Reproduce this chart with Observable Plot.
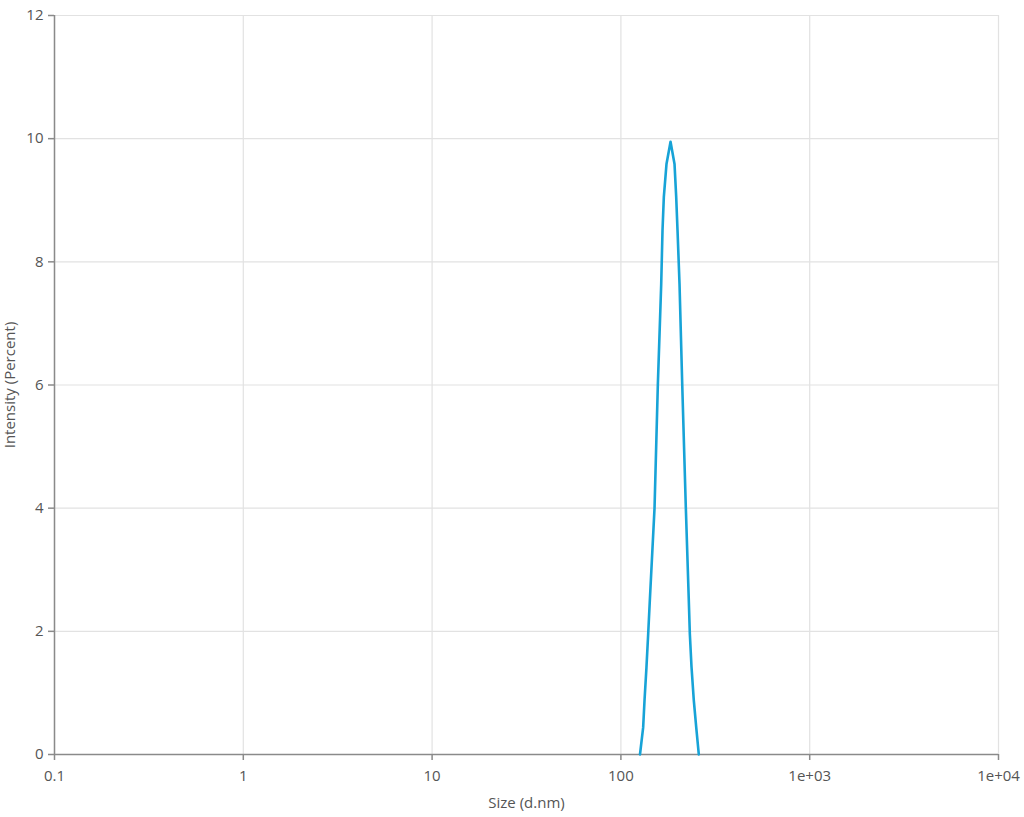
<!DOCTYPE html>
<html>
<head>
<meta charset="utf-8">
<script src="https://cdn.jsdelivr.net/npm/d3@7"></script>
<script src="https://cdn.jsdelivr.net/npm/@observablehq/plot@0.6"></script>
<style>
  html, body { margin: 0; padding: 0; background: #fff; }
  #chart svg { display: block; }
</style>
</head>
<body>
<div id="chart"></div>
<script>
// Size (d.nm) and Intensity (Percent)
const sizes = [126.2, 131.2, 133.4, 136.6, 139.5, 142.3, 150.7, 156.9, 163.5, 166.1, 168.8, 174.4, 183.2,
               192.3, 196.3, 199.5, 204.4, 211.3, 220.8, 228.9, 231.8, 236.6, 243.3, 250.6, 258.6];
const intensity = [0, 0.44, 0.88, 1.42, 1.96, 2.5, 4.0, 6.0, 7.64, 8.51, 9.05, 9.59, 9.95,
                   9.59, 9.05, 8.51, 7.64, 6.0, 4.0, 2.5, 1.96, 1.42, 0.88, 0.44, 0];
const xTicks = [0.1, 1, 10, 100, 1000, 10000];
const xTickLabels = ["0.1", "1", "10", "100", "1e+03", "1e+04"];
const yTicks = [0, 2, 4, 6, 8, 10, 12];

const data = sizes.map((s, i) => ({size: s, value: intensity[i]}));

const chart = Plot.plot({
  width: 1024,
  height: 817,
  marginLeft: 54,
  marginRight: 26,
  marginTop: 15,
  marginBottom: 63,
  style: {fontFamily: "'Open Sans', 'Noto Sans', sans-serif", fontSize: "15px", color: "#555", background: "#fff"},
  x: {type: "log", domain: [0.1, 10000]},
  y: {domain: [0, 12]},
  marks: [
    Plot.gridX(xTicks, {stroke: "#e2e2e2", strokeOpacity: 1, strokeWidth: 1.2}),
    Plot.gridY(yTicks, {stroke: "#e2e2e2", strokeOpacity: 1, strokeWidth: 1.2}),
    Plot.ruleY([0], {stroke: "#8a8a8a", strokeWidth: 1.5}),
    Plot.ruleX([0.1], {stroke: "#8a8a8a", strokeWidth: 1.5}),
    Plot.axisX({
      ticks: xTicks,
      tickFormat: (d) => xTickLabels[xTicks.indexOf(d)],
      tickSize: 6,
      tickPadding: 10,
      stroke: "#8a8a8a",
      strokeWidth: 1.5,
      fill: "#555",
      fontSize: 15,
      label: "Size (d.nm)",
      labelAnchor: "center",
      labelArrow: "none",
      labelOffset: 53
    }),
    Plot.axisY({
      ticks: yTicks,
      tickSize: 6,
      tickPadding: 5,
      stroke: "#8a8a8a",
      strokeWidth: 1.5,
      fill: "#555",
      fontSize: 15,
      label: "Intensity (Percent)",
      labelAnchor: "center",
      labelArrow: "none",
      labelOffset: 50
    }),
    Plot.line(data, {x: "size", y: "value", stroke: "#17a3d7", strokeWidth: 2.6, curve: "linear"})
  ]
});
document.getElementById("chart").appendChild(chart);
</script>
</body>
</html>
